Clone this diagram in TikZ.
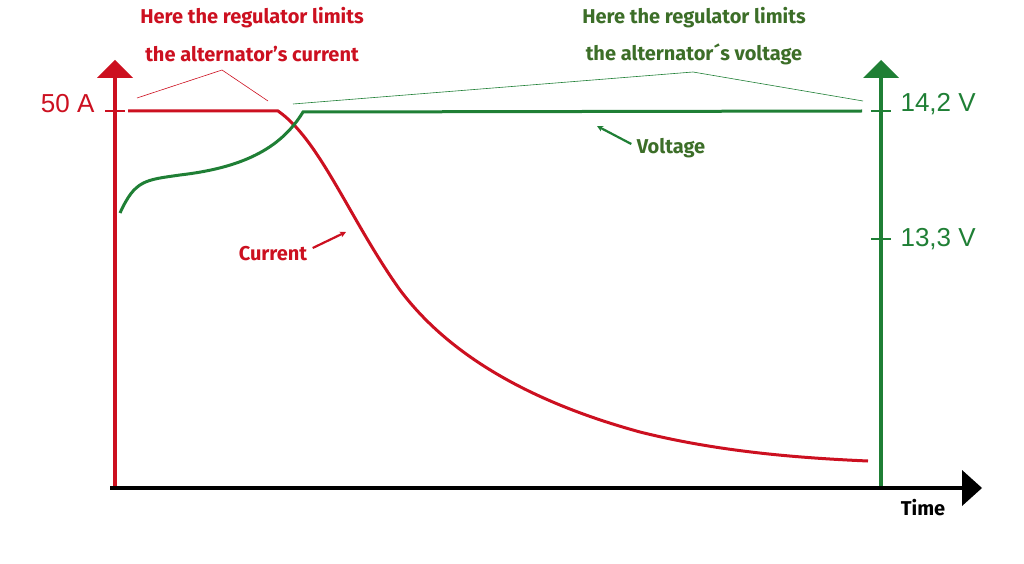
\documentclass[tikz,border=0pt]{standalone}
\usepackage{fontspec}
\setmainfont{Liberation Sans}
\newfontfamily\labelfont{Fira Sans}
\usetikzlibrary{arrows.meta}
\definecolor{curred}{HTML}{CC1020}
\definecolor{voltgreen}{HTML}{1F7F35}
\definecolor{txtgreen}{HTML}{3C6E28}
\tikzset{%
  axisline/.style={line width=3.4pt},
  curveline/.style={line width=3pt},
  noteline/.style={line width=0.6pt},
  headlabel/.style={font=\labelfont\bfseries\fontsize{20}{24}\selectfont},
  ticklabel/.style={font=\fontsize{26}{30}\selectfont},
  pointer/.style={-{Stealth[length=6pt,width=6pt]}, line width=2.2pt}
}
\begin{document}
\begin{tikzpicture}[x=1pt,y=-1pt]
  \useasboundingbox (0,0) rectangle (1024,564);

% axes
\coordinate (A0) at (115,488);
\coordinate (A1) at (115,78);
\coordinate (V0) at (881,488);
\coordinate (V1) at (881,78);
\coordinate (T0) at (110,488);
\coordinate (T1) at (964,488);
\draw [axisline, curred] (A0) -- (A1);
\fill [curred] (97,78) -- (115,60) -- (133,78) -- cycle;
\draw [axisline, voltgreen] (V0) -- (V1);
\fill [voltgreen] (863,78) -- (881,60) -- (899,78) -- cycle;
\draw [axisline, black] (T0) -- (T1);
\fill [black] (962,470) -- (982,488) -- (962,506) -- cycle;

% ticks
\draw [line width=2.4pt, curred] (105,111) -- (125,111);
\foreach \y in {111,239} {
  \draw [line width=2.4pt, voltgreen] (871,\y) -- (891,\y);
}

\node [ticklabel, curred, anchor=east] (amp) at (98,104) {50 A};
\node [ticklabel, voltgreen, anchor=west] (vhigh) at (897,104) {14,2 V};
\node [ticklabel, voltgreen, anchor=west] (vlow) at (897,239) {13,3 V};
\node [headlabel, black] (time) at (923,508) {Time};

% curves
\draw [curveline, curred] (128,111) -- (278,111)
  .. controls (320,140) and (350,220) .. (400,290)
  .. controls (460,370) and (560,410) .. (640,432)
  .. controls (720,452) and (800,458) .. (868,461);
\draw [curveline, voltgreen] (120,213)
  .. controls (135,180) and (145,180) .. (180,175)
  .. controls (240,168) and (280,150) .. (303,112)
  -- (862,111);

% notes
\node [headlabel, curred] (nA1) at (252,18) {Here the regulator limits};
\node [headlabel, curred] (nA2) at (252,54) {the alternator’s current};
\node [headlabel, txtgreen] (nV1) at (694,18) {Here the regulator limits};
\node [headlabel, txtgreen] (nV2) at (694,54) {the alternator´s voltage};

\draw [noteline, curred] (137,98) -- (222,70) -- (268,101);
\draw [noteline, voltgreen] (293,104) -- (693,72) -- (863,101);

\node [headlabel, txtgreen] (volt) at (671,148) {Voltage};
\node [headlabel, curred] (curr) at (273,254) {Current};
\coordinate (voltend) at (597,126);
\coordinate (currend) at (346,232);
\draw [pointer, voltgreen] (volt.west) ++(-2,-4) -- (voltend);
\draw [pointer, curred] (curr.east) ++(2,-6) -- (currend);

\end{tikzpicture}
\end{document}
